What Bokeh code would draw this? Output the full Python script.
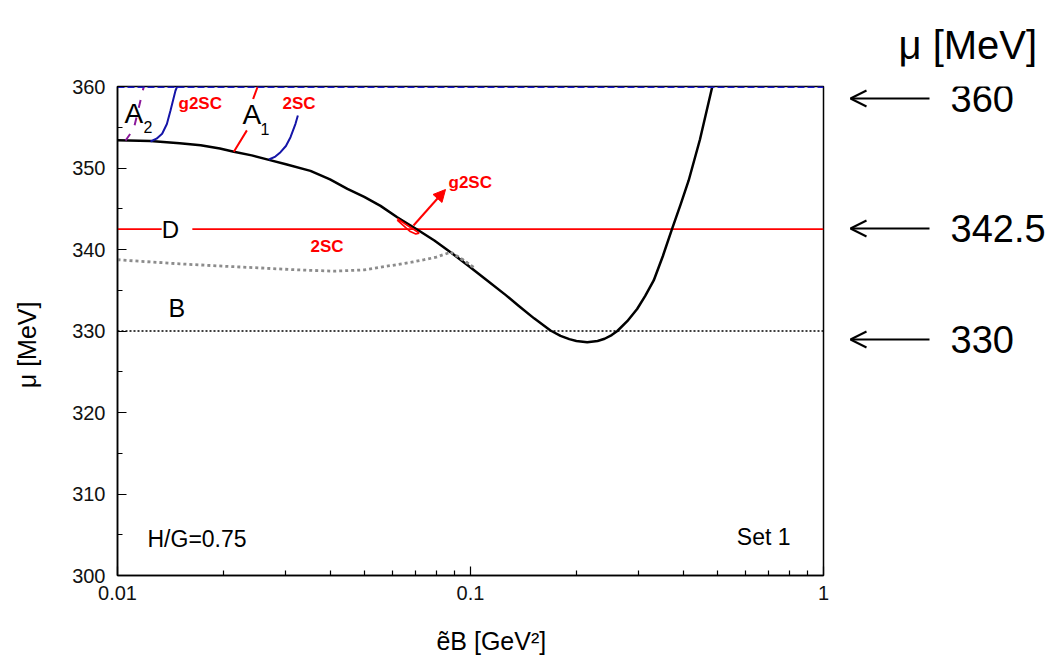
import math
from bokeh.plotting import figure
from bokeh.layouts import row
from bokeh.models import Range1d, FixedTicker, Label, Arrow, OpenHead, NormalHead
from bokeh.embed import file_html
from bokeh.resources import INLINE

# ---------------- data ----------------
# black phase boundary
bnd_x = [0.0100, 0.0124, 0.0150, 0.0172, 0.0195, 0.02136, 0.0240, 0.02685, 0.0300, 0.0352,
         0.0400, 0.0448, 0.0500, 0.0556, 0.0620, 0.0706, 0.0790, 0.0878, 0.0990, 0.1115,
         0.1259, 0.1368, 0.1514, 0.1685, 0.1799, 0.1905, 0.1995, 0.2141, 0.2291, 0.2399,
         0.2512, 0.2606, 0.2780, 0.2965, 0.3126, 0.3304, 0.3508, 0.3724, 0.3936, 0.4150,
         0.4467, 0.4842]
bnd_mu = [353.4, 353.3, 353.05, 352.8, 352.4, 352.0, 351.55, 351.0, 350.45, 349.65,
          348.6, 347.45, 346.45, 345.35, 343.95, 342.45, 341.1, 339.67, 337.95, 336.2,
          334.4, 333.1, 331.55, 330.06, 329.4, 329.0, 328.78, 328.63, 328.78, 329.05,
          329.5, 330.0, 331.2, 332.7, 334.3, 336.2, 339.2, 342.54, 345.5, 348.47,
          353.5, 360.0]
# gray dotted boundary
gray_x = [0.0100, 0.0150, 0.0200, 0.0250, 0.0316, 0.0409, 0.0500, 0.0556, 0.0620, 0.0680,
          0.0740, 0.0800, 0.0878, 0.0950, 0.102]
gray_mu = [338.74, 338.24, 337.95, 337.75, 337.52, 337.34, 337.5, 337.83, 338.15, 338.44,
           338.75, 339.06, 339.67, 338.75, 337.8]
# purple dashed (A2)
pur_x = [0.01054, 0.01112, 0.01187]
pur_mu = [353.37, 354.81, 360.0]
# blue (g2SC)
blue1_x = [0.01240, 0.01290, 0.01338, 0.01380, 0.01413, 0.01460, 0.01476]
blue1_mu = [353.25, 353.6, 354.20, 355.4, 357.06, 359.51, 360.0]
# red dashed (A1)
red1_x = [0.02136, 0.02331, 0.02423, 0.02496]
red1_mu = [352.0, 354.69, 358.49, 360.0]
# blue (2SC)
blue2_x = [0.02685, 0.02800, 0.02896, 0.03000, 0.03091, 0.03193, 0.03243]
blue2_mu = [351.04, 351.4, 351.94, 352.7, 353.78, 355.42, 356.44]
# small red g2SC pocket
poc_x = [0.0620, 0.0660, 0.0700, 0.0715, 0.0700, 0.0675, 0.0620]
poc_mu = [343.8, 343.0, 342.3, 342.0, 341.9, 342.2, 343.6]
# horizontal lines
mu_D = 342.5
mu_B = 330.0
mu_top = 360.0
right_vals = ["360", "342.5", "330"]

x_ticks = [0.01, 0.1, 1]
x_tick_labels = ["0.01", "0.1", "1"]
x_minor = [0.02, 0.03, 0.04, 0.05, 0.06, 0.07, 0.08, 0.09, 0.2, 0.3, 0.4, 0.5, 0.6, 0.7, 0.8, 0.9]
y_ticks = [300, 310, 320, 330, 340, 350, 360]
y_minor = [305, 315, 325, 335, 345, 355]

# --------------- layout helpers (pixel -> data, for annotations) ---------------
FL, FT, FW, FH = 117, 86, 706, 489
TOTAL_W, TOTAL_H = 1048, 664
PW = FL + FW + 10
def X(px):
    return 10 ** (-2 + 2 * (px - FL) / FW)
def Y(py):
    return 360 - 60 * (py - FT) / FH

FONT = "Liberation Sans"
NB = "\u00a0"

p = figure(width=PW, height=TOTAL_H, frame_width=FW, frame_height=FH,
           x_axis_type="log", x_range=Range1d(0.01, 1), y_range=Range1d(300, 360),
           output_backend="svg", toolbar_location=None,
           min_border_left=FL, min_border_top=FT,
           min_border_right=PW - FL - FW, min_border_bottom=TOTAL_H - FT - FH)
p.grid.visible = False
p.outline_line_color = "black"
p.outline_line_width = 1.5
p.background_fill_color = "white"
p.border_fill_color = "white"

xa = p.xaxis[0]
xa.ticker = FixedTicker(ticks=x_ticks, minor_ticks=x_minor)
xa.major_label_overrides = {t: l for t, l in zip(x_ticks, x_tick_labels)}
ya = p.yaxis[0]
ya.ticker = FixedTicker(ticks=y_ticks, minor_ticks=y_minor)
for ax in (xa, ya):
    ax.major_tick_in = 9
    ax.major_tick_out = 0
    ax.minor_tick_in = 5
    ax.minor_tick_out = 0
    ax.axis_line_width = 1.5
    ax.major_tick_line_width = 1.2
    ax.minor_tick_line_width = 1.2
    ax.major_label_text_font = FONT
    ax.major_label_text_font_size = "20px"
    ax.major_label_text_color = "#111"
    ax.axis_label_text_font = FONT
    ax.axis_label_text_font_size = "25px"
    ax.axis_label_text_font_style = "normal"
    ax.axis_label_text_color = "black"
xa.major_label_standoff = 10
ya.major_label_standoff = 12
xa.axis_label = NB * 6 + "ẽB [GeV²]"
xa.axis_label_standoff = 24
ya.axis_label = "μ [MeV]" + NB * 4
ya.axis_label_standoff = 28

# --------------- lines ---------------
p.line([0.01, 1], [mu_B, mu_B], color="black", line_width=1.3, line_dash="2 2")
p.line([0.01, 1], [mu_D, mu_D], color="#ff0000", line_width=1.6)
p.line(gray_x, gray_mu, color="#8c8c8c", line_width=2.8, line_dash="3 3")
p.line(bnd_x, bnd_mu, color="black", line_width=2.5, line_join="round")
p.line(gray_x[-3:], gray_mu[-3:], color="#8c8c8c", line_width=2.8, line_dash="3 3")
p.line(pur_x, pur_mu, color="#8b1a9b", line_width=2, line_dash="8 10")
p.line(blue1_x, blue1_mu, color="#1515a8", line_width=2)
p.line(red1_x, red1_mu, color="#ff0000", line_width=2, line_dash="25 32")
p.line(blue2_x, blue2_mu, color="#1515a8", line_width=2)
p.line(poc_x, poc_mu, color="#ff0000", line_width=1.6)
p.line([0.01, 1], [mu_top, mu_top], color="#1a1acc", line_width=3, line_dash="7 3")

# arrow to g2SC
p.add_layout(Arrow(x_start=X(413), y_start=Y(225), x_end=X(445), y_end=Y(189),
                   line_color="#ff0000", line_width=2,
                   end=NormalHead(size=12, fill_color="#ff0000", line_color="#ff0000")))

def lab(fig, x, y, t, size, color="black", bold=False, align="left", base="middle",
        font=FONT, italic=False, bg=None):
    style = "bold" if bold else ("italic" if italic else "normal")
    l = Label(x=x, y=y, text=t, text_font=font, text_font_size=size, text_color=color,
              text_font_style=style, text_align=align, text_baseline=base)
    if bg:
        l.background_fill_color = bg
    fig.add_layout(l)

lab(p, X(124), Y(113), "A", "28px")
lab(p, X(143), Y(126), "2", "16px")
lab(p, X(242), Y(114), "A", "28px")
lab(p, X(260), Y(128), "1", "16px")
lab(p, X(178), Y(103), "g2SC", "17px", "#ff0000", bold=True)
lab(p, X(282), Y(103), "2SC", "17px", "#ff0000", bold=True)
lab(p, X(448), Y(182), "g2SC", "17px", "#ff0000", bold=True)
lab(p, X(310), Y(245.5), "2SC", "17px", "#ff0000", bold=True)
lab(p, X(176.5), mu_D, " D ", "24px", align="center", bg="white")
lab(p, X(168), Y(307.5), "B", "25px")
lab(p, X(147), Y(538), "H/G=0.75", "23px")
lab(p, X(790), Y(536), "Set 1", "23px", align="right")

# --------------- right-side annotation panel (pixel coordinates) ---------------
q = figure(width=TOTAL_W - PW, height=TOTAL_H, x_range=Range1d(PW, TOTAL_W),
           y_range=Range1d(FT + FH, FT), output_backend="svg", toolbar_location=None,
           x_axis_location=None, y_axis_location=None,
           min_border_left=0, min_border_right=0, min_border_top=0, min_border_bottom=0)
q.grid.visible = False
q.outline_line_color = None
q.background_fill_color = "white"
q.border_fill_color = "white"
q.title.text = "μ [MeV]"
q.title.align = "left"
q.title.offset = 898 - PW
q.title.standoff = 40
q.title.text_font = FONT
q.title.text_font_size = "40px"
q.title.text_font_style = "normal"
q.title.text_color = "black"

for val, py in zip(right_vals, [98, 228, 339]):
    lab(q, 950, py, val, "38px")
    q.add_layout(Arrow(x_start=929, y_start=py, x_end=850, y_end=py,
                       line_color="black", line_width=2,
                       end=OpenHead(size=16, line_color="black", line_width=2)))

layout = row(p, q, spacing=0)
open("out.html", "w").write(file_html(layout, INLINE))
